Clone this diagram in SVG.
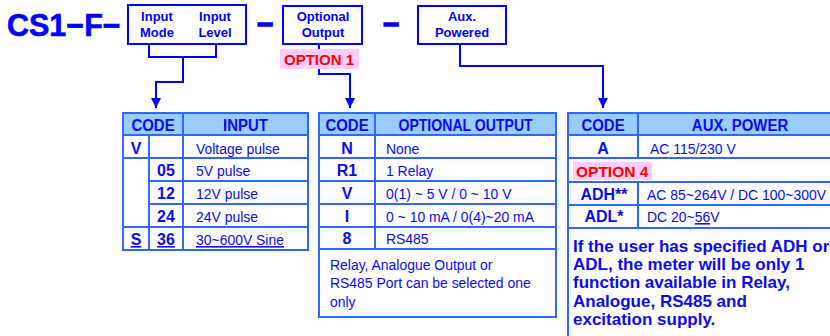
<svg xmlns="http://www.w3.org/2000/svg" width="830" height="336" viewBox="0 0 830 336">
<defs>
<marker id="arr" viewBox="0 0 10 10" refX="10" refY="5" markerWidth="5" markerHeight="5" orient="auto" markerUnits="strokeWidth">
<path d="M0,0 L10,5 L0,10 Z" fill="#0000ff"/>
</marker>
<style>
text{font-family:"Liberation Sans",Arial,sans-serif;fill:#0a0af0}
.title{font-size:30.5px;font-weight:bold;fill:#0000ff;stroke:#0000ff;stroke-width:0.6}
.dash{font-size:28px;font-weight:bold;fill:#0000ff;stroke:#0000ff;stroke-width:1.4}
.box{fill:#fff;stroke:#0000ff;stroke-width:2}
.bl{font-size:13px;font-weight:bold;text-anchor:middle;fill:#0000ff}
.conn{fill:none;stroke:#0000ff;stroke-width:2}
.opt{fill:#ffccff}
.optt{font-size:15px;font-weight:bold;fill:#ff0000}
.hdr{fill:#99ccff}
.cell{fill:#fff}
.grid{fill:none;stroke:#3366ff;stroke-width:2}
.th{font-size:17px;font-weight:bold;text-anchor:middle;transform:scaleX(0.88);transform-box:fill-box;transform-origin:center}
.code{font-size:16px;font-weight:bold;text-anchor:middle}
.td,.note{font-size:15.5px;transform:scaleX(0.9);transform-box:fill-box;transform-origin:left center}
.bnote{font-size:17px;font-weight:bold}
.u{text-decoration:underline}
</style>
</defs>

<g id="title">
<text class="title" x="7" y="36">CS1−F−</text>
</g>

<g id="dash1"><text class="dash" x="257" y="34">−</text></g>
<g id="dash2"><text class="dash" x="383" y="34">−</text></g>

<g id="connectors">
<path class="conn" d="M149,44 V57 H216 V44"/>
<path class="conn" d="M183,57 V82 H156 V108" marker-end="url(#arr)"/>
<path class="conn" d="M319,44 V74 H350 V108" marker-end="url(#arr)"/>
<path class="conn" d="M460,44 V66 H603 V108" marker-end="url(#arr)"/>
</g>

<g id="box-input">
<rect class="box" x="128" y="5" width="118" height="39"/>
<text class="bl" x="157" y="21">Input</text>
<text class="bl" x="157" y="37">Mode</text>
<text class="bl" x="215" y="21">Input</text>
<text class="bl" x="215" y="37">Level</text>
</g>

<g id="box-optional">
<rect class="box" x="283" y="6" width="79" height="38"/>
<text class="bl" x="323" y="21">Optional</text>
<text class="bl" x="323" y="37">Output</text>
</g>

<g id="box-aux">
<rect class="box" x="418" y="6" width="88" height="38"/>
<text class="bl" x="462" y="21">Aux.</text>
<text class="bl" x="462" y="37">Powered</text>
</g>

<g id="option1">
<rect class="opt" x="280" y="49" width="79" height="20"/>
<text class="optt" x="284" y="65">OPTION 1</text>
</g>

<g id="table-input">
<rect class="hdr" x="123" y="113" width="185" height="22"/>
<rect class="cell" x="123" y="135" width="185" height="115"/>
<path class="grid" d="M123,113 H308 V250 H123 Z M123,135 H308 M123,158 H308 M149,181 H308 M149,204 H308 M123,227 H308 M183,113 V250 M149,135 V250"/>
<text class="th" x="153" y="131">CODE</text>
<text class="th" x="245.5" y="131">INPUT</text>
<text class="code" x="136" y="154">V</text>
<text class="td" x="196" y="154">Voltage pulse</text>
<text class="code" x="166" y="176">05</text>
<text class="td" x="196" y="176">5V pulse</text>
<text class="code" x="166" y="199">12</text>
<text class="td" x="196" y="199">12V pulse</text>
<text class="code" x="166" y="222">24</text>
<text class="td" x="196" y="222">24V pulse</text>
<text class="code u" x="136" y="245">S</text>
<text class="code u" x="166" y="245">36</text>
<text class="td u" x="196" y="245">30~600V Sine</text>
</g>

<g id="table-output">
<rect class="hdr" x="319" y="113" width="237" height="22"/>
<rect class="cell" x="319" y="135" width="237" height="182"/>
<path class="grid" d="M319,113 H556 V317 H319 Z M319,135 H556 M319,158 H556 M319,181 H556 M319,204 H556 M319,227 H556 M319,249 H556 M375,113 V249"/>
<text class="th" x="347" y="131">CODE</text>
<text class="th" x="465.5" y="131" style="font-size:16px">OPTIONAL OUTPUT</text>
<text class="code" x="347" y="154">N</text>
<text class="td" x="386" y="154">None</text>
<text class="code" x="347" y="176">R1</text>
<text class="td" x="386" y="176">1 Relay</text>
<text class="code" x="347" y="199">V</text>
<text class="td" x="386" y="199">0(1) ~ 5 V / 0 ~ 10 V</text>
<text class="code" x="347" y="222">I</text>
<text class="td" x="386" y="222">0 ~ 10 mA / 0(4)~20 mA</text>
<text class="code" x="347" y="244">8</text>
<text class="td" x="386" y="244">RS485</text>
<text class="note" x="330" y="270">Relay, Analogue Output or</text>
<text class="note" x="330" y="288">RS485 Port can be selected one</text>
<text class="note" x="330" y="307">only</text>
</g>

<g id="table-aux">
<rect class="hdr" x="568" y="113" width="274" height="22"/>
<rect class="cell" x="568" y="135" width="274" height="210"/>
<path class="grid" d="M842,113 H568 V345 M568,135 H842 M568,158 H842 M568,182 H842 M568,205 H842 M568,228 H842 M638,113 V158 M638,182 V228"/>
<rect class="opt" x="573" y="162" width="79" height="18"/>
<text class="optt" x="576" y="177" style="font-size:15.5px">OPTION 4</text>
<text class="th" x="603" y="131">CODE</text>
<text class="th" x="740" y="131">AUX. POWER</text>
<text class="code" x="603" y="154">A</text>
<text class="td" x="650" y="154">AC 115/230 V</text>
<text class="code" x="604" y="200">ADH**</text>
<text class="td" x="647" y="200">AC 85~264V / DC 100~300V</text>
<text class="code" x="604" y="222">ADL*</text>
<text class="td" x="647" y="222">DC 20~<tspan class="u">56</tspan>V</text>
<text class="bnote" x="573" y="252">If the user has specified ADH or</text>
<text class="bnote" x="573" y="270">ADL, the meter will be only 1</text>
<text class="bnote" x="573" y="288">function available in Relay,</text>
<text class="bnote" x="573" y="307">Analogue, RS485 and</text>
<text class="bnote" x="573" y="325">excitation supply.</text>
</g>
</svg>
